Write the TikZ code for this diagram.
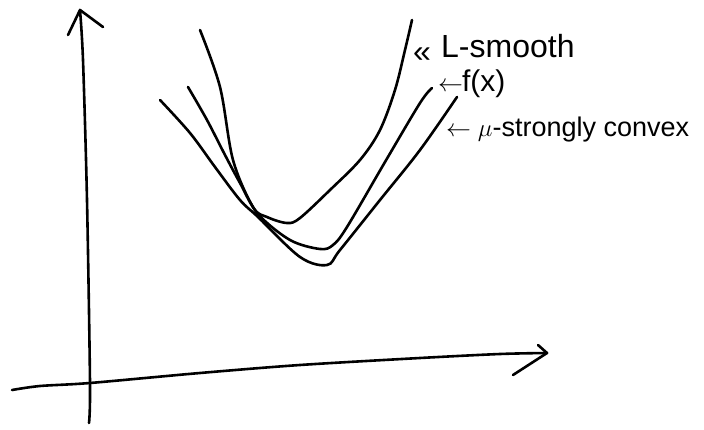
\documentclass[tikz,border=0pt]{standalone}
\usepackage{fontspec}
\setmainfont{Liberation Sans}
\begin{document}
\begin{tikzpicture}[x=1pt,y=-1pt,
  ink/.style={line width=2.6pt,line cap=round,line join=round,black},
  curve/.style={ink,smooth,tension=0.55},
  lbl/.style={anchor=west,inner sep=0pt}]
\useasboundingbox (0,0) rectangle (704,430);
% axes
\coordinate (ytip) at (80,10);
\coordinate (ybot) at (89,423);
\coordinate (xleft) at (12,390);
\coordinate (xtip) at (547,353);
\draw[ink] plot[smooth,tension=0.5] coordinates {(ybot) (90,383) (87,200) (83,60) (ytip)};
\draw[ink] (68,35) -- (ytip) -- (103,27);
\draw[ink] plot[smooth,tension=0.5] coordinates {(xleft) (40,386) (90,383) (200,373) (300,365) (420,358) (500,354) (xtip)};
\draw[ink] (513,375) -- (xtip) -- (538,345);
% L-smooth
\draw[curve] plot coordinates {(200,30) (220,87) (233,160) (253,207) (267,217) (287,223) (300,218) (330,190) (360,160) (380,130) (395,90) (405,50) (412,20)};
% f(x)
\draw[curve] plot coordinates {(188,87) (207,120) (225,155) (240,183) (258,214) (290,240) (320,249) (333,245) (347,227) (385,162) (420,103) (432,88)};
% mu-strongly convex
\draw[curve] plot coordinates {(160,100) (190,133) (215,167) (240,200) (258,217) (300,257) (327,265) (340,250) (380,200) (420,150) (457,97)};
% labels
\node[lbl,font=\fontsize{32}{34}\selectfont] (larr) at (413,55) {«};
\node[lbl,font=\fontsize{32}{34}\selectfont] (lsm) at (441,46) {L-smooth};
\node[lbl,font=\fontsize{30}{32}\selectfont] (fx) at (438,84) {$\leftarrow$\hspace{-1pt}f(x)};
\node[lbl,font=\fontsize{27}{29}\selectfont] (mu) at (446,130) {$\leftarrow\mu$-strongly convex};
\end{tikzpicture}
\end{document}
